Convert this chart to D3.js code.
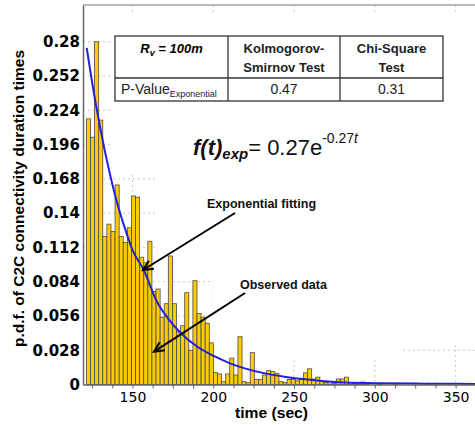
<!DOCTYPE html>
<html>
<head>
<meta charset="utf-8">
<script src="https://cdn.jsdelivr.net/npm/d3@7"></script>
<style>
  body { margin: 0; background: #fff; }
  svg { display: block; }
  .axis path, .axis line { stroke: #666; }
</style>
</head>
<body>
<div id="chart"></div>
<script>
// histogram of C2C connectivity durations, bins of ~2.5 s starting at 121.5 s
var binStart = 121.5;
var binWidth = 2.535;
var density = [
  0.217, 0.202, 0.280, 0.216, 0.121, 0.131, 0.125, 0.163, 0.121, 0.116,
  0.128, 0.154, 0.153, 0.104, 0.0995, 0.117, 0.076, 0.078, 0.055, 0.066,
  0.105, 0.066, 0.043, 0.048, 0.075, 0.028, 0.0848, 0.058, 0.055, 0.050,
  0.034, 0.0097, 0.0086, 0.0023, 0.0086, 0.0215, 0.0078, 0.039, 0.0023, 0.0015,
  0.026, 0.0042, 0.0042, 0.0078, 0.0113, 0.0105, 0.0091, 0.0023, 0.0015, 0.0042,
  0.0042, 0.003, 0.0042, 0.0095, 0.0128, 0.0045, 0.006, 0.003, 0.0015, 0.0025,
  0.001, 0.0045, 0.0045, 0.006, 0.0015, 0.001, 0.0015, 0.002, 0.0015, 0,
  0, 0.001, 0, 0, 0, 0.001, 0, 0, 0, 0,
  0, 0, 0, 0.001, 0, 0.001, 0, 0, 0, 0
];

// fitted exponential curve
var fitTime = [121.7, 125, 130, 135, 140, 145, 150, 157, 165, 172, 180, 190, 200, 210, 220, 232, 245, 257, 278, 300, 330, 362];
var fitPdf = [0.275, 0.247, 0.21, 0.178, 0.151, 0.129, 0.11, 0.0935, 0.068, 0.054, 0.0418, 0.031, 0.0235, 0.0175, 0.013, 0.0091, 0.0062, 0.0042, 0.0018, 0.0011, 0.0007, 0.0005];

var yTicks = [0, 0.028, 0.056, 0.084, 0.112, 0.14, 0.168, 0.196, 0.224, 0.252, 0.28];
var xTicks = [150, 200, 250, 300, 350];
var xMinorTicks = [125, 137.5, 150, 162.5, 175, 187.5, 200, 212.5, 225, 237.5, 250, 262.5, 275, 287.5, 300, 312.5, 325, 337.5, 350];

var tableHead = ['Kolmogorov-|Smirnov Test', 'Chi-Square|Test'];
var pValues = ['0.47', '0.31'];

var width = 475, height = 425;
var plot = { left: 83, top: 5, right: 475, bottom: 384.5 };

var svg = d3.select('#chart').append('svg')
  .attr('width', width).attr('height', height)
  .style('font-family', '"Liberation Sans", Arial, sans-serif');

var xScale = d3.scaleLinear().domain([119.4, 362]).range([plot.left, plot.right]);
var yScale = d3.scaleLinear().domain([0, 0.31]).range([plot.bottom, plot.top]);

// dotted grid
var grid = svg.append('g').attr('stroke', '#c8c8c8').attr('stroke-dasharray', '2,3').attr('stroke-width', 1);
grid.selectAll('.hg').data(yTicks.slice(1)).enter().append('line')
  .attr('x1', plot.left).attr('x2', plot.right)
  .attr('y1', function (d) { return yScale(d); }).attr('y2', function (d) { return yScale(d); });
grid.selectAll('.vg').data(xTicks).enter().append('line')
  .attr('y1', plot.top).attr('y2', plot.bottom)
  .attr('x1', function (d) { return xScale(d); }).attr('x2', function (d) { return xScale(d); });

// white panels of the pasted annotations hide most of the grid
var covers = [[113, 15, 362, 160], [155, 175, 320, 95], [213, 270, 187, 87], [400, 270, 75, 75]];
svg.append('g').selectAll('rect').data(covers).enter().append('rect')
  .attr('x', function (d) { return d[0]; }).attr('y', function (d) { return d[1]; })
  .attr('width', function (d) { return d[2]; }).attr('height', function (d) { return d[3]; })
  .attr('fill', '#fff');

// bars
svg.append('g').selectAll('rect')
  .data(density.map(function (d, i) { return { i: i, v: d }; }).filter(function (d) { return d.v > 0; }))
  .enter().append('rect')
  .attr('x', function (d) { return xScale(binStart + d.i * binWidth); })
  .attr('width', function (d) { return xScale(binStart + (d.i + 1) * binWidth) - xScale(binStart + d.i * binWidth); })
  .attr('y', function (d) { return yScale(d.v); })
  .attr('height', function (d) { return yScale(0) - yScale(d.v); })
  .attr('fill', '#ffcc00')
  .attr('stroke', '#4a4a4a')
  .attr('stroke-width', 0.8);

// fitted curve
var line = d3.line()
  .x(function (d) { return xScale(d[0]); })
  .y(function (d) { return yScale(d[1]); })
  .curve(d3.curveMonotoneX);
svg.append('path')
  .datum(fitTime.map(function (t, i) { return [t, fitPdf[i]]; }))
  .attr('d', line)
  .attr('fill', 'none')
  .attr('stroke', '#1f1fe6')
  .attr('stroke-width', 2);

// axes
var yAxis = d3.axisLeft(yScale).tickValues(yTicks).tickSize(0).tickPadding(3)
  .tickFormat(function (d) { return d === 0 ? '0' : d3.format('')(+d.toFixed(3)); });
var gy = svg.append('g').attr('class', 'axis').attr('transform', 'translate(' + plot.left + ',0)').call(yAxis);
gy.select('.domain').attr('stroke-width', 1.5);
gy.selectAll('text').style('font-family', '"DejaVu Sans", sans-serif').style('font-weight', 'bold')
  .style('font-size', '15px').attr('fill', '#000');

var xAxis = d3.axisBottom(xScale).tickValues(xMinorTicks).tickSize(4).tickSizeOuter(0).tickPadding(4)
  .tickFormat(function (d) { return xTicks.indexOf(d) >= 0 ? d : ''; });
var gx = svg.append('g').attr('class', 'axis').attr('transform', 'translate(0,' + plot.bottom + ')').call(xAxis);
gx.select('.domain').attr('stroke-width', 1.5);
gx.selectAll('text').style('font-family', '"DejaVu Sans", sans-serif').style('font-size', '14px').attr('fill', '#000');

svg.append('line').attr('x1', plot.left).attr('x2', plot.right).attr('y1', plot.top).attr('y2', plot.top)
  .attr('stroke', '#777').attr('stroke-width', 1.2);

// axis titles
svg.append('text')
  .attr('transform', 'translate(24,198.5) rotate(-90)')
  .attr('text-anchor', 'middle')
  .attr('font-weight', 'bold').attr('font-size', 15)
  .attr('textLength', 297).attr('lengthAdjust', 'spacingAndGlyphs')
  .text('p.d.f. of C2C connectivity duration times');
svg.append('text')
  .attr('x', 271.5).attr('y', 418)
  .attr('text-anchor', 'middle')
  .attr('font-weight', 'bold').attr('font-size', 15)
  .attr('textLength', 73).attr('lengthAdjust', 'spacingAndGlyphs')
  .text('time (sec)');

// p-value table
var table = svg.append('g');
var cols = [115, 228, 340, 443];
var rows = [36, 78, 101];
table.append('rect').attr('x', cols[0]).attr('y', rows[0]).attr('width', cols[3] - cols[0]).attr('height', rows[2] - rows[0])
  .attr('fill', '#fff').attr('stroke', '#333').attr('stroke-width', 1.3);
table.append('line').attr('x1', cols[0]).attr('x2', cols[3]).attr('y1', rows[1]).attr('y2', rows[1]).attr('stroke', '#333').attr('stroke-width', 1.3);
[cols[1], cols[2]].forEach(function (c) {
  table.append('line').attr('x1', c).attr('x2', c).attr('y1', rows[0]).attr('y2', rows[2]).attr('stroke', '#333').attr('stroke-width', 1.3);
});

var rv = table.append('text').attr('x', (cols[0] + cols[1]) / 2).attr('y', 53)
  .attr('text-anchor', 'middle').attr('font-size', 13).attr('font-weight', 'bold').attr('font-style', 'italic');
rv.append('tspan').text('R');
rv.append('tspan').attr('font-size', 9).attr('dy', 3).text('v');
rv.append('tspan').attr('dy', -3).text(' = 100m');

tableHead.forEach(function (h, i) {
  var cx = (cols[i + 1] + cols[i + 2]) / 2;
  h.split('|').forEach(function (s, j) {
    table.append('text').attr('x', cx).attr('y', 53 + j * 18.5)
      .attr('text-anchor', 'middle').attr('font-size', 13).attr('font-weight', 'bold').attr('fill', '#222')
      .text(s);
  });
  table.append('text').attr('x', cx).attr('y', 94).attr('text-anchor', 'middle').attr('font-size', 14).attr('fill', '#222')
    .text(pValues[i]);
});

var pv = table.append('text').attr('x', 121).attr('y', 94).attr('font-size', 14).attr('fill', '#222');
pv.append('tspan').text('P-Value');
pv.append('tspan').attr('font-size', 9).attr('dy', 3).text('Exponential');

// fitted formula
var f = svg.append('text').attr('x', 193).attr('y', 155).attr('fill', '#111');
f.append('tspan').attr('font-size', 22).attr('font-weight', 'bold').attr('font-style', 'italic').text('f(t)');
f.append('tspan').attr('font-size', 15).attr('font-weight', 'bold').attr('font-style', 'italic').attr('dy', 4).text('exp');
f.append('tspan').attr('font-size', 22).attr('dy', -4).text('= 0.27e');
f.append('tspan').attr('font-size', 14).attr('dy', -12).text('-0.27');
f.append('tspan').attr('font-size', 14).attr('font-style', 'italic').text('t');

// annotations with arrows
var notes = [
  { label: 'Exponential fitting', tx: 207, ty: 208, x1: 235, y1: 213, x2: 143, y2: 270 },
  { label: 'Observed data', tx: 240, ty: 289, x1: 245, y1: 293, x2: 154, y2: 351.7 }
];
notes.forEach(function (n) {
  svg.append('text').attr('x', n.tx).attr('y', n.ty).attr('font-size', 12.5).attr('font-weight', 'bold').attr('fill', '#111')
    .text(n.label);
  svg.append('line').attr('x1', n.x1).attr('y1', n.y1).attr('x2', n.x2).attr('y2', n.y2)
    .attr('stroke', '#000').attr('stroke-width', 2);
  var a = Math.atan2(n.y1 - n.y2, n.x1 - n.x2), L = 11, s = 0.45;
  var p = [[n.x2 + L * Math.cos(a + s), n.y2 + L * Math.sin(a + s)], [n.x2, n.y2], [n.x2 + L * Math.cos(a - s), n.y2 + L * Math.sin(a - s)]];
  svg.append('path').attr('d', d3.line()(p)).attr('fill', 'none').attr('stroke', '#000').attr('stroke-width', 2);
});
</script>
</body>
</html>
